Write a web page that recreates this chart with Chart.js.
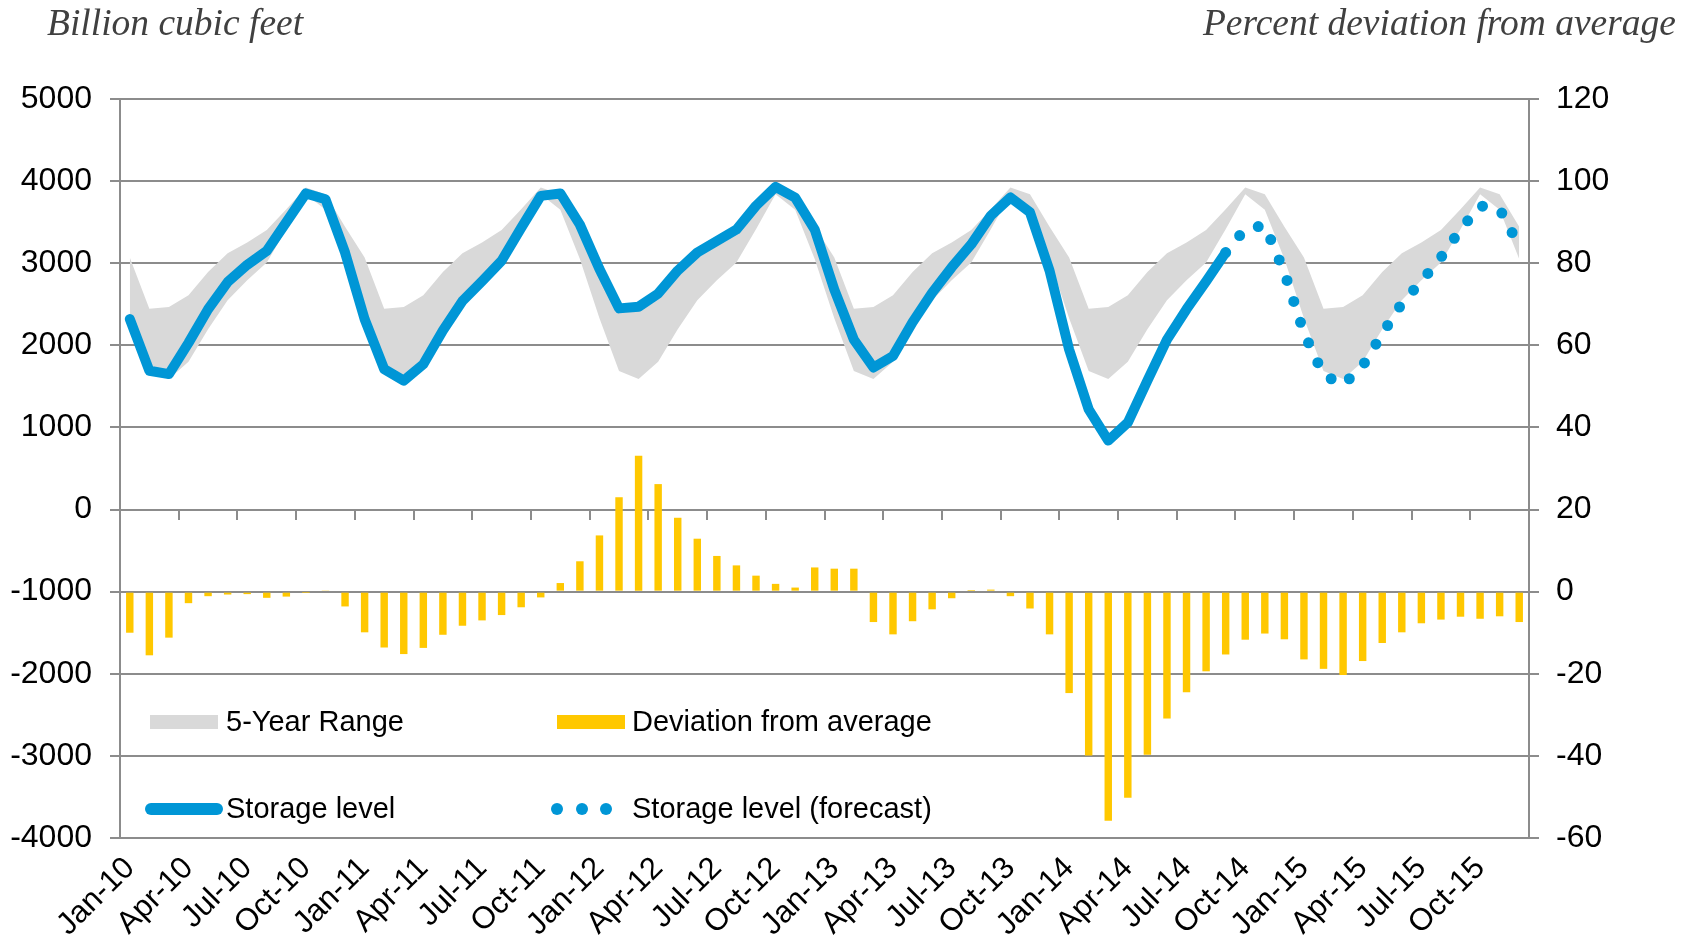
<!DOCTYPE html>
<html>
<head>
<meta charset="utf-8">
<script src="https://cdn.jsdelivr.net/npm/chart.js@4.4.1/dist/chart.umd.min.js"></script>
<style>
  html, body { margin: 0; padding: 0; background: #fff; }
  #wrap { width: 1694px; height: 939px; }
</style>
</head>
<body>
<div id="wrap"><canvas id="storageChart" width="1694" height="939"></canvas></div>
<script>
// Months Jan-10 .. Dec-15
const monthNames = ['Jan', 'Feb', 'Mar', 'Apr', 'May', 'Jun', 'Jul', 'Aug', 'Sep', 'Oct', 'Nov', 'Dec'];
const years = ['10', '11', '12', '13', '14', '15'];
const months = [];
years.forEach(y => monthNames.forEach(m => months.push(m + '-' + y)));

// 5-year range (billion cubic feet)
const rangeHigh = [
  3070, 2447, 2467, 2610, 2894, 3121, 3251, 3405, 3657, 3921, 3840, 3445,
  3070, 2447, 2467, 2610, 2894, 3121, 3251, 3405, 3657, 3921, 3840, 3445,
  3070, 2447, 2467, 2610, 2894, 3121, 3251, 3405, 3657, 3921, 3840, 3445,
  3070, 2447, 2467, 2610, 2894, 3121, 3251, 3405, 3657, 3921, 3840, 3445,
  3070, 2447, 2467, 2610, 2894, 3121, 3251, 3405, 3657, 3921, 3840, 3445,
  3070, 2447, 2467, 2610, 2894, 3121, 3251, 3405, 3657, 3921, 3840, 3445
];
const rangeLow = [
  2330, 1688, 1590, 1800, 2196, 2549, 2792, 3008, 3413, 3840, 3650, 3050,
  2330, 1688, 1590, 1800, 2196, 2549, 2792, 3008, 3413, 3840, 3650, 3050,
  2330, 1688, 1590, 1800, 2196, 2549, 2792, 3008, 3413, 3840, 3650, 3050,
  2330, 1688, 1590, 1800, 2196, 2549, 2792, 3008, 3413, 3840, 3650, 3050,
  2330, 1688, 1590, 1800, 2196, 2549, 2792, 3008, 3413, 3840, 3650, 3050,
  2330, 1688, 1590, 1800, 2196, 2549, 2792, 3008, 3413, 3840, 3650, 3050
];

// Storage level, Jan-10 .. Sep-14
const storage = [
  2320, 1690, 1650, 2030, 2440, 2770, 2980, 3150, 3500, 3850, 3780, 3130,
  2320, 1710, 1570, 1770, 2180, 2540, 2780, 3030, 3430, 3820, 3850, 3470,
  2930, 2450, 2470, 2630, 2910, 3130, 3270, 3410, 3700, 3930, 3800, 3410,
  2680, 2070, 1730, 1870, 2280, 2640, 2950, 3230, 3580, 3800, 3620, 2910,
  1950, 1220, 840, 1060, 1570, 2070, 2440, 2780, 3130
];

// Storage level forecast, Sep-14 .. Dec-15
const forecast = [
  3130, 3420, 3460, 2890, 2150, 1640, 1520, 1750, 2140, 2510, 2780, 3070, 3410, 3700, 3660, 3210
];

// Deviation from 5-year average (percent)
const deviation = [
  -10.0, -15.5, -11.2, -2.8, -1.1, -0.7, -0.6, -1.5, -1.2, -0.1, 0.3, -3.6,
  -9.9, -13.6, -15.2, -13.7, -10.5, -8.3, -7.0, -5.7, -3.8, -1.4, 2.1, 7.4,
  13.7, 23.0, 33.1, 26.2, 18.0, 12.9, 8.7, 6.4, 3.9, 1.9, 1.0, 5.9,
  5.6, 5.6, -7.4, -10.4, -7.2, -4.3, -1.6, 0.4, 0.5, -1.1, -4.1, -10.4,
  -24.7, -39.9, -55.8, -50.2, -39.7, -30.9, -24.5, -19.4, -15.3, -11.7, -10.2, -11.6,
  -16.5, -18.8, -20.3, -16.9, -12.5, -9.9, -7.7, -6.8, -6.1, -6.6, -6.0, -7.4
];

const leftTicks = [5000, 4000, 3000, 2000, 1000, 0, -1000, -2000, -3000, -4000];
const rightTicks = [120, 100, 80, 60, 40, 20, 0, -20, -40, -60];

const BLUE = '#0096d6';
const YELLOW = '#ffc800';
const GREY_BAND = '#d9d9d9';
const AXIS_GREY = '#8c8c8c';

const storageSeries = storage.concat(new Array(months.length - storage.length).fill(null));
const forecastSeries = new Array(storage.length - 1).fill(null).concat(forecast);

Chart.defaults.font.family = '"Liberation Sans", Arial, sans-serif';
Chart.defaults.color = '#000';

// unit labels above each value axis
const headerPlugin = {
  id: 'headers',
  afterDraw(chart) {
    const ctx = chart.ctx;
    ctx.save();
    ctx.font = 'italic 37.5px "Liberation Serif", "Times New Roman", serif';
    ctx.fillStyle = '#404040';
    ctx.textBaseline = 'alphabetic';
    ctx.textAlign = 'left';
    ctx.fillText('Billion cubic feet', 47, 35);
    ctx.textAlign = 'right';
    ctx.fillText('Percent deviation from average', 1676, 35);
    ctx.restore();
  }
};

// legend inside the plot, two columns
const legendPlugin = {
  id: 'insideLegend',
  afterDraw(chart) {
    const ctx = chart.ctx;
    ctx.save();
    ctx.font = '29px "Liberation Sans", Arial, sans-serif';
    ctx.textBaseline = 'alphabetic';

    ctx.fillStyle = GREY_BAND;
    ctx.fillRect(150, 715, 68, 14);
    ctx.fillStyle = YELLOW;
    ctx.fillRect(557, 715, 68, 14);

    ctx.strokeStyle = BLUE;
    ctx.lineWidth = 12;
    ctx.lineCap = 'round';
    ctx.beginPath();
    ctx.moveTo(151, 809);
    ctx.lineTo(217, 809);
    ctx.stroke();

    ctx.fillStyle = BLUE;
    [557, 582, 606].forEach(x => {
      ctx.beginPath();
      ctx.arc(x, 809, 6, 0, Math.PI * 2);
      ctx.fill();
    });

    ctx.fillStyle = '#000';
    ctx.fillText('5-Year Range', 226, 731);
    ctx.fillText('Deviation from average', 632, 731);
    ctx.fillText('Storage level', 226, 818);
    ctx.fillText('Storage level (forecast)', 632, 818);
    ctx.restore();
  }
};

new Chart(document.getElementById('storageChart'), {
  data: {
    labels: months,
    datasets: [
      {
        type: 'line',
        label: 'Storage level (forecast)',
        data: forecastSeries,
        yAxisID: 'y',
        borderColor: BLUE,
        borderWidth: 11,
        borderDash: [0, 22],
        borderCapStyle: 'round',
        pointRadius: 0,
        tension: 0,
        spanGaps: false,
        order: 1
      },
      {
        type: 'line',
        label: 'Storage level',
        data: storageSeries,
        yAxisID: 'y',
        borderColor: BLUE,
        borderWidth: 10,
        borderCapStyle: 'round',
        borderJoinStyle: 'round',
        pointRadius: 0,
        tension: 0,
        order: 2
      },
      {
        type: 'bar',
        label: 'Deviation from average',
        data: deviation,
        yAxisID: 'y1',
        backgroundColor: YELLOW,
        barPercentage: 0.38,
        categoryPercentage: 1,
        order: 3
      },
      {
        type: 'line',
        label: '5-Year Range',
        data: rangeHigh,
        yAxisID: 'y',
        borderWidth: 0,
        pointRadius: 0,
        backgroundColor: GREY_BAND,
        fill: '+1',
        tension: 0,
        order: 4
      },
      {
        type: 'line',
        label: '5-Year Range low',
        data: rangeLow,
        yAxisID: 'y',
        borderWidth: 0,
        pointRadius: 0,
        fill: false,
        tension: 0,
        order: 5
      }
    ]
  },
  options: {
    responsive: false,
    animation: false,
    devicePixelRatio: 1,
    layout: { padding: { top: 99, left: 0, right: 0, bottom: 0 } },
    plugins: {
      legend: { display: false },
      tooltip: { enabled: false }
    },
    scales: {
      x: {
        type: 'category',
        position: 'bottom',
        offset: true,
        grid: { display: false, drawTicks: false },
        border: { display: false },
        ticks: {
          autoSkip: false,
          maxRotation: 45,
          minRotation: 45,
          padding: 12,
          font: { size: 31 },
          callback: function (value, index) {
            return index % 3 === 0 ? this.getLabelForValue(value) : '';
          }
        },
        afterFit: s => { s.height = 101; }
      },
      xTicks: {
        type: 'category',
        position: { y: 0 },
        offset: true,
        grid: {
          offset: true,
          drawOnChartArea: false,
          drawTicks: true,
          tickLength: 10,
          lineWidth: 2,
          color: ctx => (ctx.index % 3 === 0 ? AXIS_GREY : 'rgba(0,0,0,0)')
        },
        border: { display: false },
        ticks: { display: false }
      },
      y: {
        position: 'left',
        min: -4000,
        max: 5000,
        afterBuildTicks: s => { s.ticks = leftTicks.map(v => ({ value: v })); },
        grid: { color: AXIS_GREY, lineWidth: 2, tickLength: 10 },
        border: { color: AXIS_GREY, width: 2 },
        ticks: { padding: 18, font: { size: 32 }, callback: v => String(v) },
        afterFit: s => { s.width = 120; }
      },
      y1: {
        position: 'right',
        min: -60,
        max: 120,
        afterBuildTicks: s => { s.ticks = rightTicks.map(v => ({ value: v })); },
        grid: { drawOnChartArea: false, color: AXIS_GREY, lineWidth: 2, tickLength: 10 },
        border: { color: AXIS_GREY, width: 2 },
        ticks: { padding: 17, font: { size: 32 }, callback: v => String(v) },
        afterFit: s => { s.width = 165; }
      }
    }
  },
  plugins: [headerPlugin, legendPlugin]
});
</script>
</body>
</html>
